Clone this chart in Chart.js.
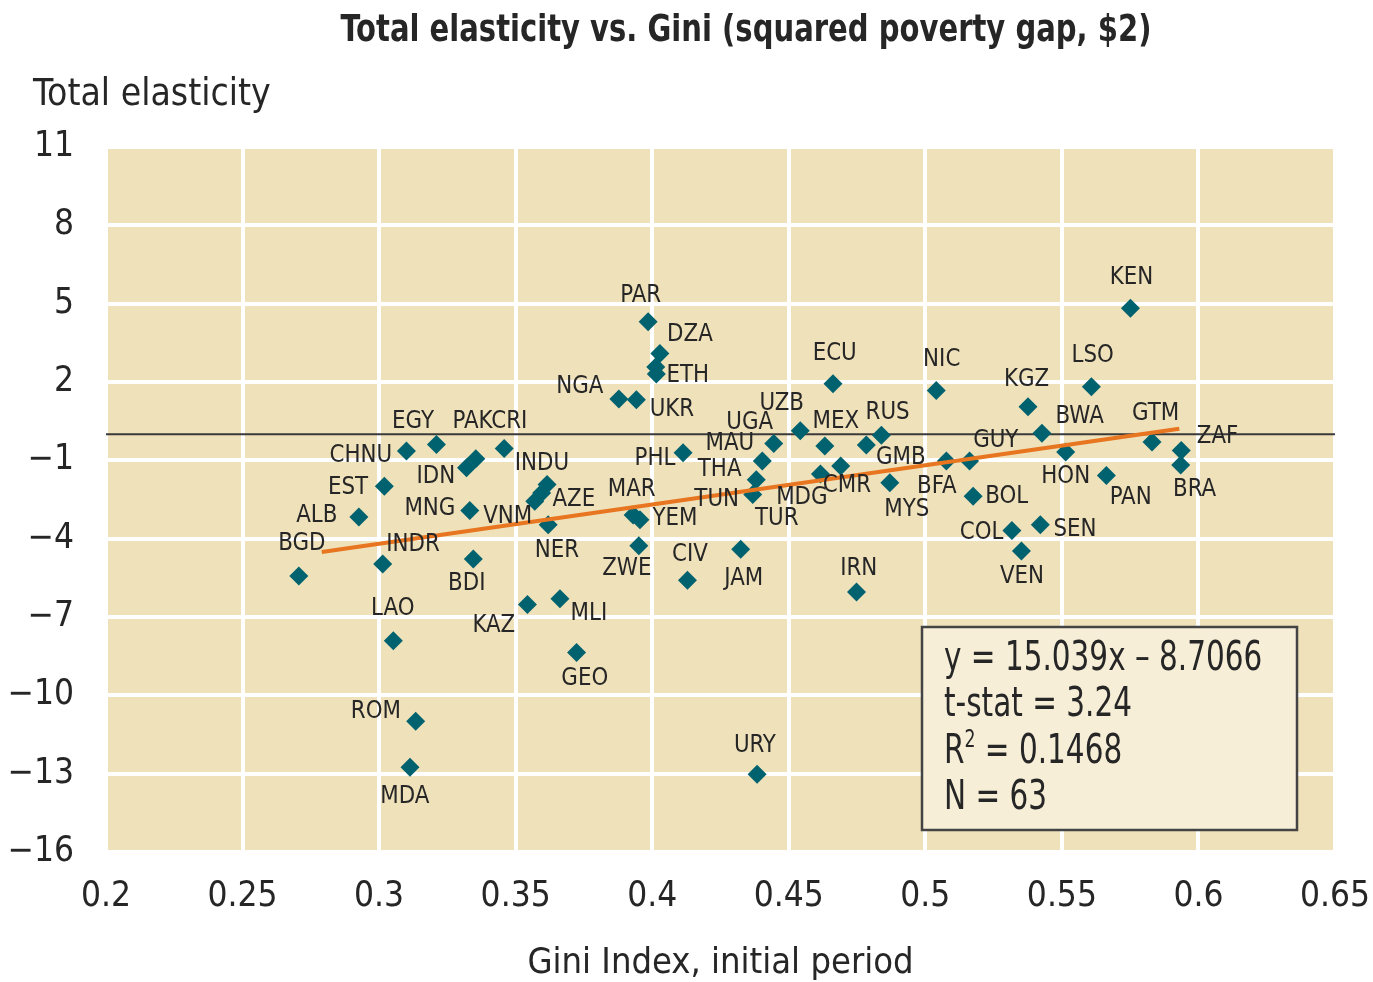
<!DOCTYPE html>
<html>
<head>
<meta charset="utf-8">
<title>Total elasticity vs. Gini</title>
<script src="https://cdn.jsdelivr.net/npm/chart.js@4.4.3/dist/chart.umd.js"></script>
<style>
    html, body { margin: 0; padding: 0; background: #ffffff; }
    #wrap { width: 1373px; height: 982px; }
</style>
</head>
<body>
<div id="wrap"><canvas id="giniChart" width="1373" height="982"></canvas></div>

<script>
    // values (63 countries)
    const countries = ['BGD', 'ALB', 'EST', 'INDR', 'LAO', 'CHNU', 'MDA', 'ROM', 'EGY', 'IDN',
        'IDN', 'MNG', 'BDI', 'PAK', 'INDU', 'AZE', 'CRI', 'VNM', 'KAZ', 'MLI',
        'GEO', 'NGA', 'UKR', 'MAR', 'YEM', 'ZWE', 'PAR', 'DZA', 'NER', 'ETH',
        'PHL', 'CIV', 'JAM', 'URY', 'UGA', 'MAU', 'THA', 'TUN', 'UZB', 'MEX',
        'ECU', 'CMR', 'MDG', 'IRN', 'TUR', 'RUS', 'MYS', 'NIC', 'GMB', 'GUY',
        'BOL', 'COL', 'VEN', 'KGZ', 'SEN', 'BWA', 'HON', 'LSO', 'PAN', 'KEN',
        'GTM', 'ZAF', 'BRA'];
    const gini = [0.2706, 0.2926, 0.3019, 0.3013, 0.3052, 0.3100, 0.3113, 0.3134, 0.3210, 0.3320,
        0.3354, 0.3332, 0.3345, 0.3458, 0.3615, 0.3595, 0.3570, 0.3619, 0.3543, 0.3662,
        0.3723, 0.3878, 0.3942, 0.3930, 0.3955, 0.3951, 0.3985, 0.4028, 0.4013, 0.4015,
        0.4113, 0.4129, 0.4324, 0.4384, 0.4445, 0.4403, 0.4381, 0.4368, 0.4542, 0.4632,
        0.4662, 0.4616, 0.4690, 0.4748, 0.4784, 0.4839, 0.4870, 0.5040, 0.5077, 0.5162,
        0.5175, 0.5317, 0.5352, 0.5376, 0.5421, 0.5427, 0.5514, 0.5608, 0.5663, 0.5751,
        0.5830, 0.5937, 0.5935];
    const elasticity = [-5.43, -3.17, -1.99, -4.97, -7.91, -0.64, -12.75, -10.99, -0.39, -1.28,
        -0.94, -2.92, -4.78, -0.55, -1.93, -2.25, -2.57, -3.47, -6.52, -6.30,
        -8.36, 1.35, 1.32, -3.09, -3.28, -4.27, 4.31, 3.09, 2.57, 2.31,
        -0.71, -5.59, -4.41, -13.02, -0.36, -1.03, -1.74, -2.31, 0.13, -0.45,
        1.93, -1.52, -1.22, -6.04, -0.41, -0.04, -1.86, 1.67, -1.03, -1.03,
        -2.38, -3.69, -4.47, 1.05, -3.47, 0.04, -0.68, 1.82, -1.58, 4.82,
        -0.30, -0.62, -1.18];

    // label texts and where they sit, in axis units
    const labelText = ['PAR', 'DZA', 'ETH', 'NGA', 'UKR', 'EGY', 'PAKCRI', 'UGA', 'UZB', 'MEX',
        'RUS', 'ECU', 'NIC', 'KGZ', 'LSO', 'KEN', 'BWA', 'GTM', 'ZAF', 'GUY',
        'HON', 'PAN', 'BRA', 'GMB', 'BFA', 'MYS', 'BOL', 'COL', 'SEN', 'VEN',
        'CMR', 'MDG', 'TUR', 'TUN', 'THA', 'MAU', 'PHL', 'INDU', 'AZE', 'MAR',
        'YEM', 'VNM', 'MNG', 'IDN', 'CHNU', 'EST', 'ALB', 'BGD', 'INDR', 'BDI',
        'NER', 'ZWE', 'CIV', 'JAM', 'IRN', 'LAO', 'KAZ', 'MLI', 'GEO', 'ROM',
        'MDA', 'URY'];
    const labelX = [0.3958, 0.4138, 0.4130, 0.3735, 0.4072, 0.3124, 0.3406, 0.4357, 0.4474, 0.4672,
        0.4862, 0.4668, 0.5060, 0.5371, 0.5613, 0.5755, 0.5565, 0.5843, 0.6070, 0.5258,
        0.5514, 0.5752, 0.5986, 0.4910, 0.5042, 0.4932, 0.5298, 0.5206, 0.5548, 0.5354,
        0.4713, 0.4548, 0.4456, 0.4236, 0.4247, 0.4284, 0.4010, 0.3596, 0.3713, 0.3925,
        0.4083, 0.3471, 0.3186, 0.3208, 0.2933, 0.2886, 0.2772, 0.2717, 0.3124, 0.3321,
        0.3651, 0.3907, 0.4138, 0.4335, 0.4756, 0.3050, 0.3420, 0.3768, 0.3753, 0.2988,
        0.3094, 0.4376];
    const labelY = [5.32, 3.82, 2.24, 1.81, 0.96, 0.50, 0.50, 0.46, 1.16, 0.50,
        0.85, 3.09, 2.85, 2.08, 3.01, 6.02, 0.69, 0.81, -0.08, -0.23,
        -1.62, -2.43, -2.12, -0.89, -2.01, -2.89, -2.39, -3.78, -3.63, -5.44,
        -1.97, -2.43, -3.24, -2.51, -1.35, -0.35, -0.93, -1.12, -2.51, -2.12,
        -3.24, -3.16, -2.85, -1.62, -0.81, -2.04, -3.12, -4.20, -4.24, -5.71,
        -4.44, -5.13, -4.59, -5.51, -5.13, -6.67, -7.33, -6.86, -9.37, -10.61,
        -13.88, -11.92];

    const xTicks = [0.2, 0.25, 0.3, 0.35, 0.4, 0.45, 0.5, 0.55, 0.6, 0.65];
    const xTickLabels = ['0.2', '0.25', '0.3', '0.35', '0.4', '0.45', '0.5', '0.55', '0.6', '0.65'];
    const yTicks = [-16, -13, -10, -7, -4, -1, 2, 5, 8, 11];
    const yTickLabels = ['\u221216', '\u221213', '\u221210', '\u22127', '\u22124', '\u22121', '2', '5', '8', '11'];

    // regression as printed in the box
    const fitSlope = 15.039;
    const fitIntercept = -8.7066;
    const fitFrom = 0.279;
    const fitTo = 0.593;
    const statsText = ['y = 15.039x \u2013 8.7066', 't-stat = 3.24', 'R|2| = 0.1468', 'N = 63'];

    const FONT = "'Liberation Sans Narrow', 'DejaVu Sans Condensed', 'Noto Sans', sans-serif";
    const INK = '#262626';

    Chart.defaults.font.family = FONT;
    Chart.defaults.color = INK;

    // squeezed text, the original uses a condensed face
    function squeeze(ctx, text, x, y, sx) {
        ctx.save();
        ctx.translate(x, y);
        ctx.scale(sx, 1);
        ctx.fillText(text, 0, 0);
        ctx.restore();
        return ctx.measureText(text).width * sx;
    }

    const plotBg = {
        id: 'plotBg',
        beforeDraw(chart) {
            const { ctx, chartArea: a } = chart;
            ctx.save();
            ctx.fillStyle = '#efe1ba';
            ctx.fillRect(a.left, a.top, a.right - a.left, a.bottom - a.top);
            ctx.restore();
        }
    };

    const texts = {
        id: 'texts',
        afterDatasetsDraw(chart) {
            const { ctx, chartArea: a, scales: { x, y } } = chart;
            ctx.save();
            ctx.fillStyle = INK;
            ctx.textAlign = 'center';
            ctx.textBaseline = 'middle';
            ctx.font = '25px ' + FONT;
            labelText.forEach((t, i) => {
                squeeze(ctx, t, x.getPixelForValue(labelX[i]), y.getPixelForValue(labelY[i]), 0.95);
            });

            // stats box
            const bx = a.right - 413, by = a.top + 480, bw = 375, bh = 203;
            ctx.fillStyle = '#f6eed7';
            ctx.fillRect(bx, by, bw, bh);
            ctx.strokeStyle = '#444444';
            ctx.lineWidth = 2.5;
            ctx.strokeRect(bx, by, bw, bh);
            ctx.fillStyle = INK;
            ctx.textAlign = 'left';
            statsText.forEach((t, i) => {
                const ly = by + 32 + i * 46.5;
                let cx = bx + 22;
                t.split('|').forEach((p, j) => {
                    if (j % 2 === 1) {
                        ctx.font = '24px ' + FONT;
                        cx += squeeze(ctx, p, cx, ly - 11, 0.8);
                    } else {
                        ctx.font = '41px ' + FONT;
                        cx += squeeze(ctx, p, cx, ly, 0.8);
                    }
                });
            });

            // chart title and y-axis caption
            ctx.textAlign = 'center';
            ctx.font = 'bold 38px ' + FONT;
            squeeze(ctx, 'Total elasticity vs. Gini (squared poverty gap, $2)', 746, 31, 0.85);
            ctx.textAlign = 'left';
            ctx.font = '37px ' + FONT;
            squeeze(ctx, 'Total elasticity', 33, 95, 1);
            ctx.restore();
        }
    };

    new Chart(document.getElementById('giniChart'), {
        type: 'scatter',
        data: {
            datasets: [{
                label: 'Countries',
                data: gini.map((g, i) => ({ x: g, y: elasticity[i] })),
                pointStyle: 'rectRot',
                pointRadius: 9.5,
                backgroundColor: '#00626f',
                borderWidth: 0,
                order: 1
            }, {
                label: 'Fit',
                data: [fitFrom, fitTo].map(v => ({ x: v, y: fitSlope * v + fitIntercept })),
                showLine: true,
                borderColor: '#e8751f',
                borderWidth: 4,
                pointRadius: 0,
                order: 0
            }, {
                label: 'Zero',
                data: [{ x: xTicks[0], y: 0 }, { x: xTicks[xTicks.length - 1], y: 0 }],
                showLine: true,
                borderColor: '#3a3a3a',
                borderWidth: 2,
                pointRadius: 0,
                order: 2
            }]
        },
        options: {
            responsive: false,
            animation: false,
            layout: { padding: { top: 147, right: 38, left: 0, bottom: 0 } },
            plugins: { legend: { display: false }, tooltip: { enabled: false } },
            scales: {
                x: {
                    min: 0.2,
                    max: 0.65,
                    afterBuildTicks: s => { s.ticks = xTicks.map(v => ({ value: v })); },
                    afterFit: s => { s.height = 130; s.paddingLeft = 0; s.paddingRight = 0; },
                    ticks: {
                        callback: (v, i) => xTickLabels[i],
                        font: { size: 35 },
                        padding: 24,
                        maxRotation: 0,
                        autoSkip: false
                    },
                    grid: { color: '#ffffff', lineWidth: 4, drawTicks: false },
                    border: { display: false },
                    title: {
                        display: true,
                        text: 'Gini Index, initial period',
                        font: { size: 36 },
                        padding: { top: 0, bottom: -3 }
                    }
                },
                y: {
                    min: -16,
                    max: 11,
                    afterBuildTicks: s => { s.ticks = yTicks.map(v => ({ value: v })); },
                    afterFit: s => { s.width = 106; s.paddingTop = 0; s.paddingBottom = 0; },
                    ticks: {
                        callback: (v, i) => yTickLabels[i],
                        font: { size: 35 },
                        padding: 32,
                        autoSkip: false
                    },
                    grid: { color: '#ffffff', lineWidth: 4, drawTicks: false },
                    border: { display: false }
                }
            }
        },
        plugins: [plotBg, texts]
    });
</script>
</body>
</html>
